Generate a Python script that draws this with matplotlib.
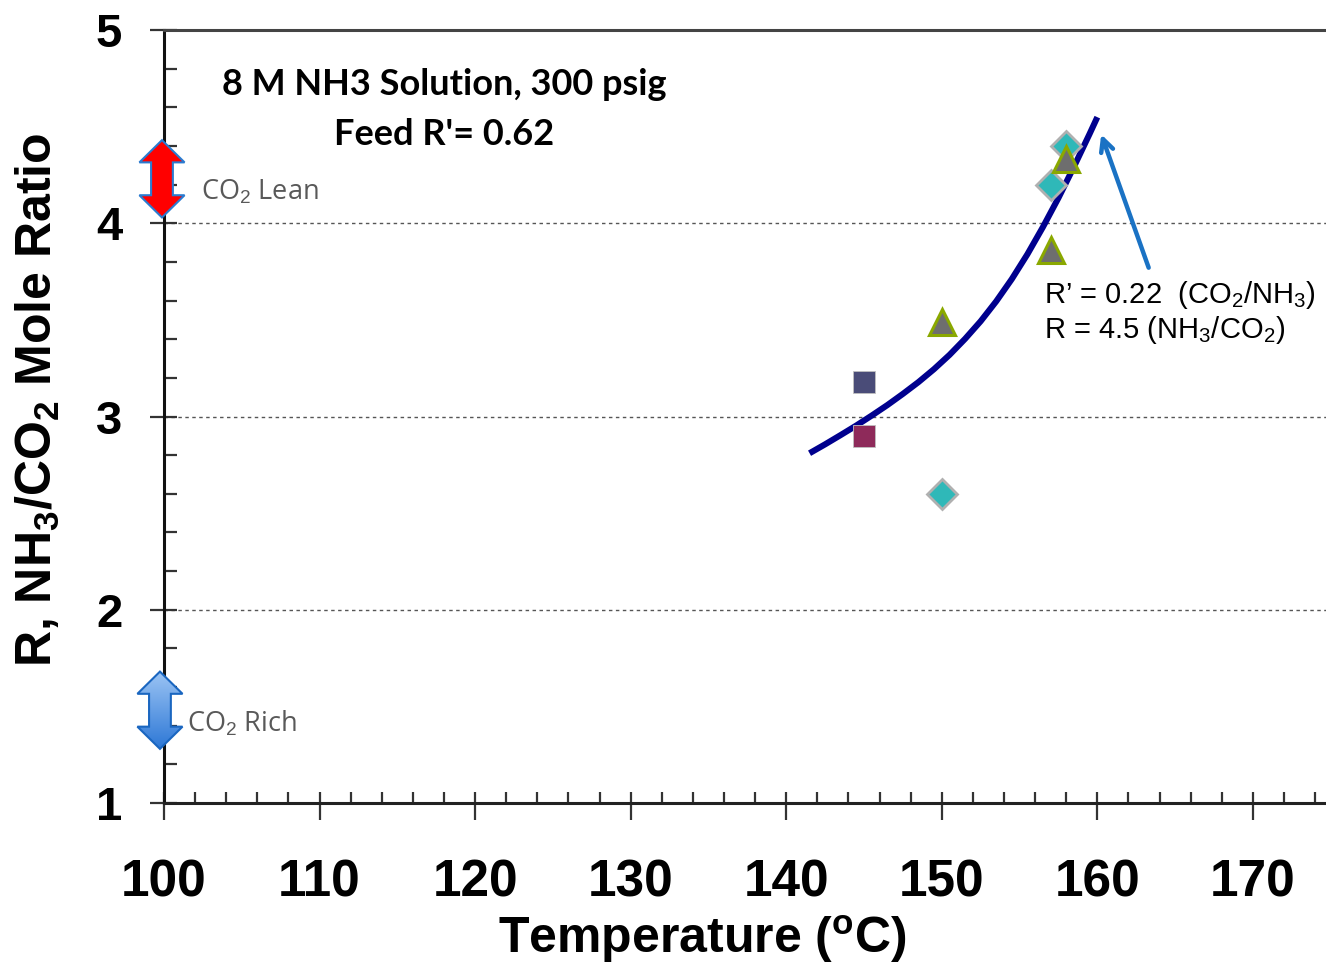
import numpy as np
import matplotlib
matplotlib.use('Agg')
import matplotlib.pyplot as plt
from matplotlib.patches import Polygon

plt.rcParams['font.family'] = ['Liberation Sans', 'DejaVu Sans']
plt.rcParams['mathtext.fontset'] = 'custom'
plt.rcParams['mathtext.rm'] = 'Liberation Sans'
plt.rcParams['mathtext.it'] = 'Liberation Sans:italic'
plt.rcParams['mathtext.bf'] = 'Liberation Sans:bold'

# data points
sq_x = [145, 145]
sq_y = [3.18, 2.90]
sq_colors = ['#4a4c78', '#8e2a5a']
dia_x = [150, 157, 158]
dia_y = [2.60, 4.20, 4.40]
tri_x = [150, 157, 158]
tri_y = [3.49, 3.86, 4.33]

# fitted curve
curve_x = [141.5, 142.5, 143.5, 144.5, 145.5, 146.5, 147.5, 148.5, 149.5, 150.5,
           151.5, 152.5, 153.5, 154.5, 155.5, 156.5, 157.5, 158.5, 159.5, 160.0]
curve_y = [2.810, 2.856, 2.904, 2.953, 3.005, 3.059, 3.117, 3.178, 3.245, 3.319,
           3.402, 3.493, 3.596, 3.711, 3.839, 3.980, 4.131, 4.293, 4.462, 4.549]

x_ticks = [100, 110, 120, 130, 140, 150, 160, 170]
y_ticks = [1, 2, 3, 4, 5]
grid_y = [2, 3, 4]

fig = plt.figure(figsize=(13.26, 9.67), dpi=100)
ax = fig.add_axes([164/1326, 164/967, 1162/1326, 773/967])
ax.set_xlim(100, 174.7)
ax.set_ylim(1, 5)

for g in grid_y:
    ax.axhline(g, color='#555555', lw=1.0, ls=(0, (2.5, 2.5)), zorder=1)

ax.plot(curve_x, curve_y, color='#00008e', lw=4.4, solid_capstyle='butt',
        solid_joinstyle='round', zorder=3)

for x, y, c in zip(sq_x, sq_y, sq_colors):
    ax.plot(x, y, marker='s', ms=15.5, color=c, mec='#c0c0c0', mew=0.6, zorder=4)
ax.plot(dia_x, dia_y, ls='none', marker='D', ms=15, mfc='#2fb8b8', mec='#b0b0b0', mew=2, zorder=4)
ax.plot(tri_x, tri_y, ls='none', marker='^', ms=19, mfc='#6e6e6e', mec='#8aa800', mew=2.2, zorder=5)

# spines and ticks
for s in ['left', 'bottom', 'top']:
    ax.spines[s].set_linewidth(2.2)
ax.spines['left'].set_color('#111111')
ax.spines['bottom'].set_color('#222222')
ax.spines['top'].set_color('#444444')
ax.spines['right'].set_visible(False)

ax.set_xticks(x_ticks)
ax.set_yticks(y_ticks)
ax.set_xticks(np.arange(100, 175, 2), minor=True)
ax.set_yticks(np.arange(1, 5.01, 0.2), minor=True)
ax.xaxis.remove_overlapping_locs = False
ax.yaxis.remove_overlapping_locs = False
ax.tick_params(axis='x', which='major', direction='out', length=12, width=1.6, pad=28,
               labelsize=37, color='#333333')
ax.tick_params(axis='x', which='minor', direction='in', length=8, width=1.6, color='#333333')
ax.tick_params(axis='y', which='major', direction='out', length=10, width=1.6, pad=20,
               labelsize=34, color='#333333')
ax.tick_params(axis='y', which='minor', direction='in', length=9, width=1.6, color='#333333')
for lab in ax.get_xticklabels() + ax.get_yticklabels():
    lab.set_fontweight('bold')

ax.set_xlabel('Temperature ($^{\\mathbf{o}}$C)', fontsize=36, fontweight='bold')
ax.xaxis.set_label_coords(0.463, -0.142)
ax.set_ylabel('R, NH$_\\mathbf{3}$/CO$_\\mathbf{2}$ Mole Ratio', fontsize=36, fontweight='bold')
ax.yaxis.set_label_coords(-0.088, 0.521)

# title texts
ax.text(118, 4.72, '8 M NH3 Solution, 300 psig', fontsize=26, fontweight='bold',
        family=['Lato', 'DejaVu Sans'], ha='center', va='center')
ax.text(118, 4.46, "Feed R'= 0.62", fontsize=26, fontweight='bold',
        family=['Lato', 'DejaVu Sans'], ha='center', va='center')

ax.text(102.4, 4.16, 'CO$_2$ Lean', fontsize=19.5, color='#595959',
        family=['Open Sans', 'DejaVu Sans'], ha='left', va='center')
ax.text(101.45, 1.41, 'CO$_2$ Rich', fontsize=19.5, color='#595959',
        family=['Open Sans', 'DejaVu Sans'], ha='left', va='center')

ax.text(156.6, 3.63, "R\u2019 = 0.22  (CO$_2$/NH$_3$)", fontsize=21, ha='left', va='center')
ax.text(156.6, 3.45, 'R = 4.5 (NH$_3$/CO$_2$)', fontsize=21, ha='left', va='center')

ax.annotate('', xy=(160.25, 4.46), xytext=(163.3, 3.77),
            arrowprops=dict(arrowstyle='->,head_length=0.9,head_width=0.45', color='#1a72c4',
                            lw=3.2, shrinkA=0, shrinkB=0), zorder=6)


def double_arrow(xc, y0, y1, head_hw, shaft_hw, head_len):
    return [(xc, y1), (xc + head_hw, y1 - head_len), (xc + shaft_hw, y1 - head_len),
            (xc + shaft_hw, y0 + head_len), (xc + head_hw, y0 + head_len), (xc, y0),
            (xc - head_hw, y0 + head_len), (xc - shaft_hw, y0 + head_len),
            (xc - shaft_hw, y1 - head_len), (xc - head_hw, y1 - head_len)]


red = Polygon(double_arrow(99.87, 4.03, 4.43, 1.45, 0.70, 0.115), closed=True,
              fc='#ff0000', ec='#2a7bd0', lw=1.5, clip_on=False, zorder=7)
ax.add_patch(red)

blue_pts = double_arrow(99.74, 1.28, 1.68, 1.45, 0.70, 0.115)
blue = Polygon(blue_pts, closed=True, fc='none', ec='#1a66c0', lw=1.5, clip_on=False, zorder=8)
ax.add_patch(blue)
grad = np.linspace(0, 1, 100).reshape(-1, 1)
cmap = matplotlib.colors.LinearSegmentedColormap.from_list('bl', ['#2d78d6', '#9cc4f4'])
im = ax.imshow(grad, cmap=cmap, extent=(98.29, 101.19, 1.28, 1.68), origin='lower',
               aspect='auto', zorder=7)
im.set_clip_box(fig.bbox)
im.set_clip_path(Polygon(blue_pts, closed=True, transform=ax.transData))
ax.set_xlim(100, 174.7)
ax.set_ylim(1, 5)

fig.savefig('out.png', dpi=100)
